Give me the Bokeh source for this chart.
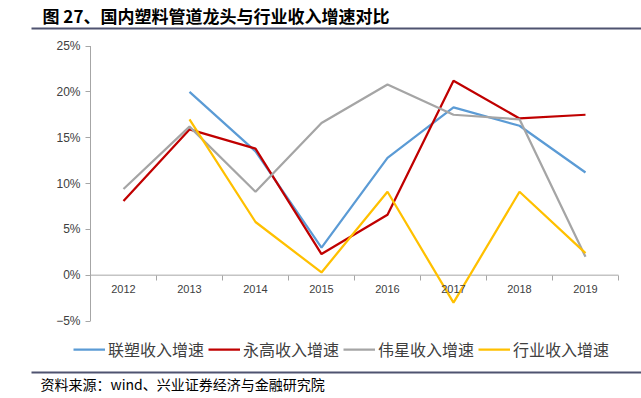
import numpy as np
from bokeh.plotting import figure
from bokeh.models import (Range1d, FixedTicker, LinearAxis, Legend, LegendItem,
                          Label, BoxAnnotation)
from bokeh.embed import file_html
from bokeh.resources import INLINE

# ---- data ----
years = ["2012", "2013", "2014", "2015", "2016", "2017", "2018", "2019"]
liansu = [None, 20.0, 13.5, 3.0, 12.8, 18.3, 16.3, 11.2]
yonggao = [8.1, 15.9, 13.8, 2.3, 6.6, 21.2, 17.1, 17.5]
weixing = [9.4, 16.2, 9.1, 16.6, 20.8, 17.5, 17.0, 2.0]
hangye = [None, 17.0, 5.8, 0.3, 9.1, -3.0, 9.1, 2.4]
y_ticks = [-5, 0, 5, 10, 15, 20, 25]
series_names = ["联塑收入增速", "永高收入增速", "伟星收入增速", "行业收入增速"]
colors = ["#5B9BD5", "#C00000", "#A5A5A5", "#FFC000"]
title_text = "图 27、国内塑料管道龙头与行业收入增速对比"
source_text = "资料来源：wind、兴业证券经济与金融研究院"

CJK = "Noto Sans CJK SC"
LAT = "Liberation Sans"
AXIS_GRAY = "#a6a6a6"
RULE = "#4f5370"

# ---- layout (pixels) ----
W, H = 641, 398
PL, PR, PT, PB = 90, 618, 45.5, 320.5   # plotting box in page pixels

xs = list(range(len(years)))
x_lo, x_hi = -0.5, len(years) - 0.5
y_lo, y_hi = y_ticks[0], y_ticks[-1]
ux = (PR - PL) / (x_hi - x_lo)
uy = (PB - PT) / (y_hi - y_lo)
x_range = Range1d(x_lo - PL / ux, x_hi + (W - PR) / ux)
y_range = Range1d(y_lo - (H - PB) / uy, y_hi + PT / uy)

p = figure(width=W, height=H, output_backend="svg", toolbar_location=None,
           x_range=x_range, y_range=y_range, x_axis_type=None, y_axis_type=None,
           min_border=0)
p.outline_line_color = None
p.background_fill_color = "white"
p.border_fill_color = "white"

# y axis (fixed at left edge of the categories)
yaxis = LinearAxis(ticker=FixedTicker(ticks=y_ticks), fixed_location=x_lo,
                   major_label_overrides={t: (f"{t}%").replace("-", "−") for t in y_ticks})
yaxis.axis_line_color = None
yaxis.major_tick_line_color = AXIS_GRAY
yaxis.major_tick_out = 5
yaxis.major_tick_in = 0
yaxis.minor_tick_line_color = None
yaxis.major_label_standoff = 5
yaxis.major_label_text_font = LAT
yaxis.major_label_text_font_size = "12px"
yaxis.major_label_text_color = "#404040"
p.add_layout(yaxis, "left")
p.segment(x0=[x_lo], y0=[y_lo], x1=[x_lo], y1=[y_hi], line_color=AXIS_GRAY, line_width=1)

# x axis line at 0 with boundary ticks
bounds = [i - 0.5 for i in range(len(years) + 1)]
xaxis_ticks = LinearAxis(ticker=FixedTicker(ticks=bounds), fixed_location=0)
xaxis_ticks.axis_line_color = None
xaxis_ticks.major_tick_line_color = AXIS_GRAY
xaxis_ticks.major_tick_out = 5
xaxis_ticks.major_tick_in = 0
xaxis_ticks.minor_tick_line_color = None
xaxis_ticks.major_label_text_color = None
xaxis_ticks.major_label_text_font_size = "0px"
p.add_layout(xaxis_ticks, "below")
p.segment(x0=[x_lo], y0=[0], x1=[x_hi], y1=[0], line_color=AXIS_GRAY, line_width=1)

# category labels
xaxis_lab = LinearAxis(ticker=FixedTicker(ticks=xs), fixed_location=0,
                       major_label_overrides={i: y for i, y in enumerate(years)})
xaxis_lab.axis_line_color = None
xaxis_lab.major_tick_line_color = None
xaxis_lab.minor_tick_line_color = None
xaxis_lab.major_tick_out = 0
xaxis_lab.major_label_standoff = 10
xaxis_lab.major_label_text_font = LAT
xaxis_lab.major_label_text_font_size = "11px"
xaxis_lab.major_label_text_color = "#404040"
p.add_layout(xaxis_lab, "below")

items = []
for name, vals, c in zip(series_names, [liansu, yonggao, weixing, hangye], colors):
    ys = [np.nan if v is None else v for v in vals]
    r = p.line(xs, ys, line_color=c, line_width=2.25)
    items.append(LegendItem(label=name, renderers=[r]))

legend = Legend(items=items, location=(73, 37), orientation="horizontal")
legend.background_fill_alpha = 0
legend.border_line_color = None
legend.label_text_font = CJK
legend.label_text_font_size = "16px"
legend.label_text_color = "#404040"
legend.glyph_width = 32
legend.glyph_height = 20
legend.label_standoff = 3
legend.spacing = 4
legend.padding = 0
legend.margin = 0
p.add_layout(legend)

# title, rules and source (screen units, origin bottom-left of the page)
p.add_layout(Label(x=42, y=H - 15, x_units="screen", y_units="screen", text=title_text,
                   text_font=CJK, text_font_size="17px", text_font_style="bold",
                   text_baseline="middle", text_color="black"))
p.add_layout(BoxAnnotation(left=31, right=W, bottom=H - 29, top=H - 27,
                           left_units="screen", right_units="screen",
                           bottom_units="screen", top_units="screen",
                           fill_color=RULE, fill_alpha=1, line_color=None))
p.add_layout(BoxAnnotation(left=31, right=W, bottom=H - 373, top=H - 371,
                           left_units="screen", right_units="screen",
                           bottom_units="screen", top_units="screen",
                           fill_color=RULE, fill_alpha=1, line_color=None))
p.add_layout(Label(x=40, y=H - 383, x_units="screen", y_units="screen", text=source_text,
                   text_font=CJK, text_font_size="14px",
                   text_baseline="middle", text_color="black"))

open("out.html", "w").write(file_html(p, INLINE))
